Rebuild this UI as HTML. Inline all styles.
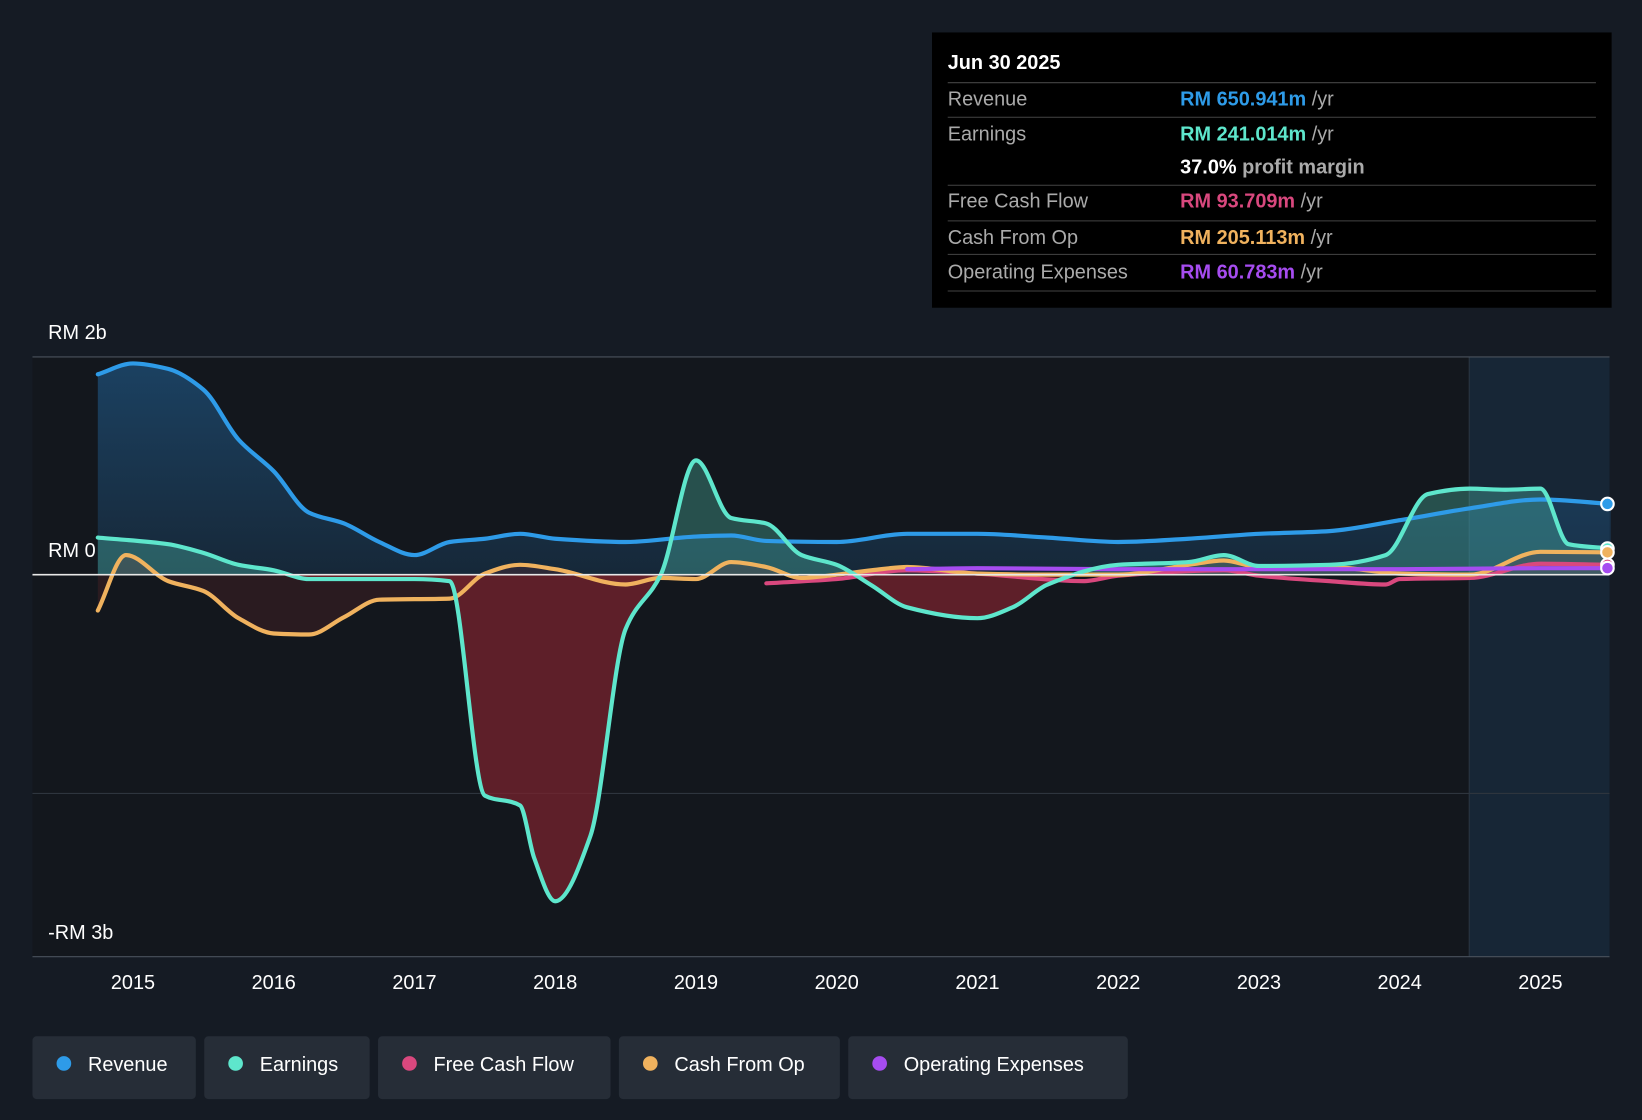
<!DOCTYPE html>
<html><head><meta charset="utf-8"><style>
html,body{margin:0;padding:0;background:#151b24;}
svg{display:block;font-family:"Liberation Sans",Roboto,sans-serif;}
</style></head><body>
<svg id="chart" width="1642" height="1120" viewBox="0 0 1568 1070" preserveAspectRatio="none" xmlns="http://www.w3.org/2000/svg">
<defs>
<linearGradient id="revGrad" x1="0" y1="0" x2="0" y2="1"><stop offset="0" stop-color="#1e4f78" stop-opacity="0.75"/><stop offset="1" stop-color="#1e4f78" stop-opacity="0.3"/></linearGradient>
<clipPath id="above"><rect x="0" y="0" width="1568" height="549"/></clipPath>
<clipPath id="below"><rect x="0" y="549" width="1568" height="600"/></clipPath>
</defs>
<rect width="1568" height="1070" fill="#151b24"/>
<rect x="31" y="341" width="1506" height="573" fill="#13171d"/>
<rect x="1403" y="341" width="134" height="573" fill="#172636"/>
<line x1="1403" y1="341" x2="1403" y2="914" stroke="#2a3542"/>
<line x1="31" y1="341" x2="1537" y2="341" stroke="#4a525c"/>
<line x1="31" y1="758" x2="1537" y2="758" stroke="#2e353e"/>
<line x1="31" y1="914" x2="1537" y2="914" stroke="#4a525c"/>
<g id="marks"></g>
<line x1="31" y1="549" x2="1537" y2="549" stroke="#e8e8e8" stroke-width="1.5"/>
<g id="dots"></g>
<text x="46" y="324" fill="#fff" font-size="19">RM 2b</text>
<text x="46" y="532" fill="#fff" font-size="19">RM 0</text>
<text x="46" y="897" fill="#fff" font-size="19">-RM 3b</text>
<g id="xticks"></g>
<g>
<rect x="890" y="31" width="649" height="263" fill="#000"/>
<text x="905" y="66" fill="#fff" font-size="19" font-weight="bold">Jun 30 2025</text>
<line x1="905" y1="79" x2="1524" y2="79" stroke="#444"/>
<text x="905" y="101" fill="#aaa" font-size="19">Revenue</text>
<text x="1127" y="101" font-size="19"><tspan fill="#2e9be8" font-weight="bold">RM 650.941m</tspan><tspan fill="#aaa"> /yr</tspan></text>
<line x1="905" y1="112" x2="1524" y2="112" stroke="#444"/>
<text x="905" y="134" fill="#aaa" font-size="19">Earnings</text>
<text x="1127" y="134" font-size="19"><tspan fill="#5ee6cc" font-weight="bold">RM 241.014m</tspan><tspan fill="#aaa"> /yr</tspan></text>
<text x="1127" y="166" font-size="19"><tspan fill="#fff" font-weight="bold">37.0%</tspan><tspan fill="#aaa" font-weight="bold"> profit margin</tspan></text>
<line x1="905" y1="177" x2="1524" y2="177" stroke="#444"/>
<text x="905" y="198" fill="#aaa" font-size="19">Free Cash Flow</text>
<text x="1127" y="198" font-size="19"><tspan fill="#d9487e" font-weight="bold">RM 93.709m</tspan><tspan fill="#aaa"> /yr</tspan></text>
<line x1="905" y1="211" x2="1524" y2="211" stroke="#444"/>
<text x="905" y="233" fill="#aaa" font-size="19">Cash From Op</text>
<text x="1127" y="233" font-size="19"><tspan fill="#f0b25e" font-weight="bold">RM 205.113m</tspan><tspan fill="#aaa"> /yr</tspan></text>
<line x1="905" y1="243" x2="1524" y2="243" stroke="#444"/>
<text x="905" y="266" fill="#aaa" font-size="19">Operating Expenses</text>
<text x="1127" y="266" font-size="19"><tspan fill="#a64cf0" font-weight="bold">RM 60.783m</tspan><tspan fill="#aaa"> /yr</tspan></text>
<line x1="905" y1="278" x2="1524" y2="278" stroke="#444"/>
</g>
<g>
<g><rect x="31" y="990" width="156" height="60" rx="4" fill="#262d37"/><circle cx="61" cy="1016" r="7" fill="#2e9be8"/><text x="84" y="1023" fill="#fff" font-size="19">Revenue</text></g>
<g><rect x="195" y="990" width="158" height="60" rx="4" fill="#262d37"/><circle cx="225" cy="1016" r="7" fill="#5ee6cc"/><text x="248" y="1023" fill="#fff" font-size="19">Earnings</text></g>
<g><rect x="361" y="990" width="222" height="60" rx="4" fill="#262d37"/><circle cx="391" cy="1016" r="7" fill="#d9487e"/><text x="414" y="1023" fill="#fff" font-size="19">Free Cash Flow</text></g>
<g><rect x="591" y="990" width="211" height="60" rx="4" fill="#262d37"/><circle cx="621" cy="1016" r="7" fill="#f0b25e"/><text x="644" y="1023" fill="#fff" font-size="19">Cash From Op</text></g>
<g><rect x="810" y="990" width="267" height="60" rx="4" fill="#262d37"/><circle cx="840" cy="1016" r="7" fill="#a64cf0"/><text x="863" y="1023" fill="#fff" font-size="19">Operating Expenses</text></g>
</g>
</svg>
<script>
const xTickYears=[2015,2016,2017,2018,2019,2020,2021,2022,2023,2024,2025];
const revT=[2014.75,2015,2015.25,2015.5,2015.75,2016,2016.25,2016.5,2016.75,2017,2017.25,2017.5,2017.75,2018,2018.5,2019,2019.25,2019.5,2020,2020.5,2021,2021.5,2022,2022.5,2023,2023.5,2024,2024.5,2025,2025.5];
const revV=[1.84,1.94,1.89,1.70,1.24,0.95,0.57,0.47,0.30,0.18,0.30,0.33,0.375,0.33,0.30,0.35,0.36,0.31,0.30,0.375,0.375,0.34,0.30,0.33,0.375,0.40,0.50,0.61,0.69,0.65];
const earnT=[2014.75,2015.25,2015.5,2015.75,2016,2016.25,2017,2017.25,2017.5,2017.75,2017.85,2018,2018.25,2018.5,2018.75,2019,2019.25,2019.5,2019.75,2020,2020.25,2020.5,2021,2021.25,2021.5,2022,2022.5,2022.75,2023,2023.5,2023.9,2024.2,2024.5,2024.75,2025,2025.2,2025.5];
const earnV=[0.34,0.28,0.20,0.09,0.04,-0.04,-0.04,-0.06,-2.03,-2.12,-2.6,-3.0,-2.4,-0.5,0,1.05,0.52,0.47,0.18,0.09,-0.1,-0.3,-0.4,-0.3,-0.09,0.09,0.115,0.18,0.08,0.09,0.18,0.74,0.79,0.78,0.79,0.28,0.24];
const fcfT=[2019.5,2020,2020.5,2021,2021.75,2022,2022.75,2023,2023.5,2023.9,2024,2024.5,2025,2025.5];
const fcfV=[-0.08,-0.04,0.04,0.01,-0.06,-0.01,0.04,-0.01,-0.06,-0.09,-0.04,-0.03,0.1,0.09];
const cfoT=[2014.75,2014.95,2015.25,2015.5,2015.75,2016,2016.25,2016.5,2016.75,2017.25,2017.5,2017.75,2018,2018.5,2018.75,2019,2019.25,2019.5,2019.75,2020,2020.25,2020.5,2021,2021.5,2022,2022.5,2022.75,2023,2023.5,2024,2024.5,2025,2025.5];
const cfoV=[-0.33,0.18,-0.06,-0.15,-0.4,-0.54,-0.55,-0.39,-0.23,-0.22,0.01,0.09,0.05,-0.09,-0.03,-0.04,0.115,0.07,-0.03,0,0.04,0.07,0.01,0,0,0.09,0.13,0.07,0.07,0.01,0,0.21,0.205];
const opexT=[2020.5,2021,2022,2023,2024,2025,2025.5];
const opexV=[0.05,0.06,0.05,0.05,0.05,0.06,0.06];

const X=t=>127+(t-2015)*134.4;
const Y=v=>549-v*104;
function pathD(ts,vs){
  const n=ts.length,x=ts.map(X),y=vs.map(Y);
  const d=[],m=new Array(n);
  for(let i=0;i<n-1;i++)d.push((y[i+1]-y[i])/(x[i+1]-x[i]));
  m[0]=d[0];m[n-1]=d[n-2];
  for(let i=1;i<n-1;i++){
    if(d[i-1]*d[i]<=0)m[i]=0;
    else{const w1=2*(x[i+1]-x[i])+(x[i]-x[i-1]),w2=(x[i+1]-x[i])+2*(x[i]-x[i-1]);m[i]=(w1+w2)/(w1/d[i-1]+w2/d[i]);}
  }
  let s='M'+x[0].toFixed(1)+','+y[0].toFixed(1);
  for(let i=0;i<n-1;i++){
    const h=(x[i+1]-x[i])/3;
    s+=' C'+(x[i]+h).toFixed(1)+','+(y[i]+m[i]*h).toFixed(1)+' '+(x[i+1]-h).toFixed(1)+','+(y[i+1]-m[i+1]*h).toFixed(1)+' '+x[i+1].toFixed(1)+','+y[i+1].toFixed(1);
  }
  return s;
}
const NS='http://www.w3.org/2000/svg';
const g=document.getElementById('marks');
function mk(tag,attrs){const e=document.createElementNS(NS,tag);for(const k in attrs)e.setAttribute(k,attrs[k]);return e;}
function area(ts,vs,fill,clip){
  const d=pathD(ts,vs)+' L'+X(ts[ts.length-1])+',549 L'+X(ts[0])+',549 Z';
  const e=mk('path',{d:d,fill:fill});
  if(clip)e.setAttribute('clip-path','url(#'+clip+')');
  
  
  g.appendChild(e);
}
area(revT,revV,'url(#revGrad)');
area(earnT,earnV,'rgba(94,230,204,0.28)','above');
area(earnT,earnV,'rgba(120,35,45,0.75)','below');
area(cfoT,cfoV,'rgba(150,50,50,0.18)');
function line(ts,vs,col,name){
  const e=mk('path',{d:pathD(ts,vs),fill:'none',stroke:col,'stroke-width':4,'stroke-linecap':'round'});
  
  
  g.appendChild(e);
}
line(revT,revV,'#2e9be8','revenue-line');
line(fcfT,fcfV,'#d9487e','free-cash-flow-line');
line(cfoT,cfoV,'#f0b25e','cash-from-op-line');
line(opexT,opexV,'#a64cf0','operating-expenses-line');
line(earnT,earnV,'#5ee6cc','earnings-line');
const dots=document.getElementById('dots');
[[revV,'#2e9be8'],[earnV,'#5ee6cc'],[cfoV,'#f0b25e'],[fcfV,'#d9487e'],[opexV,'#a64cf0']].forEach(([vs,c])=>{
  const e=mk('circle',{cx:1535,cy:Y(vs[vs.length-1]),r:6,fill:c,stroke:'#fff','stroke-width':2});
  
  
  dots.appendChild(e);
});
const xt=document.getElementById('xticks');
xTickYears.forEach(yr=>{
  const e=mk('text',{x:X(yr),y:945,fill:'#fff','font-size':19,'text-anchor':'middle'});
  e.textContent=yr;
  
  
  xt.appendChild(e);
});
</script>
</body></html>
